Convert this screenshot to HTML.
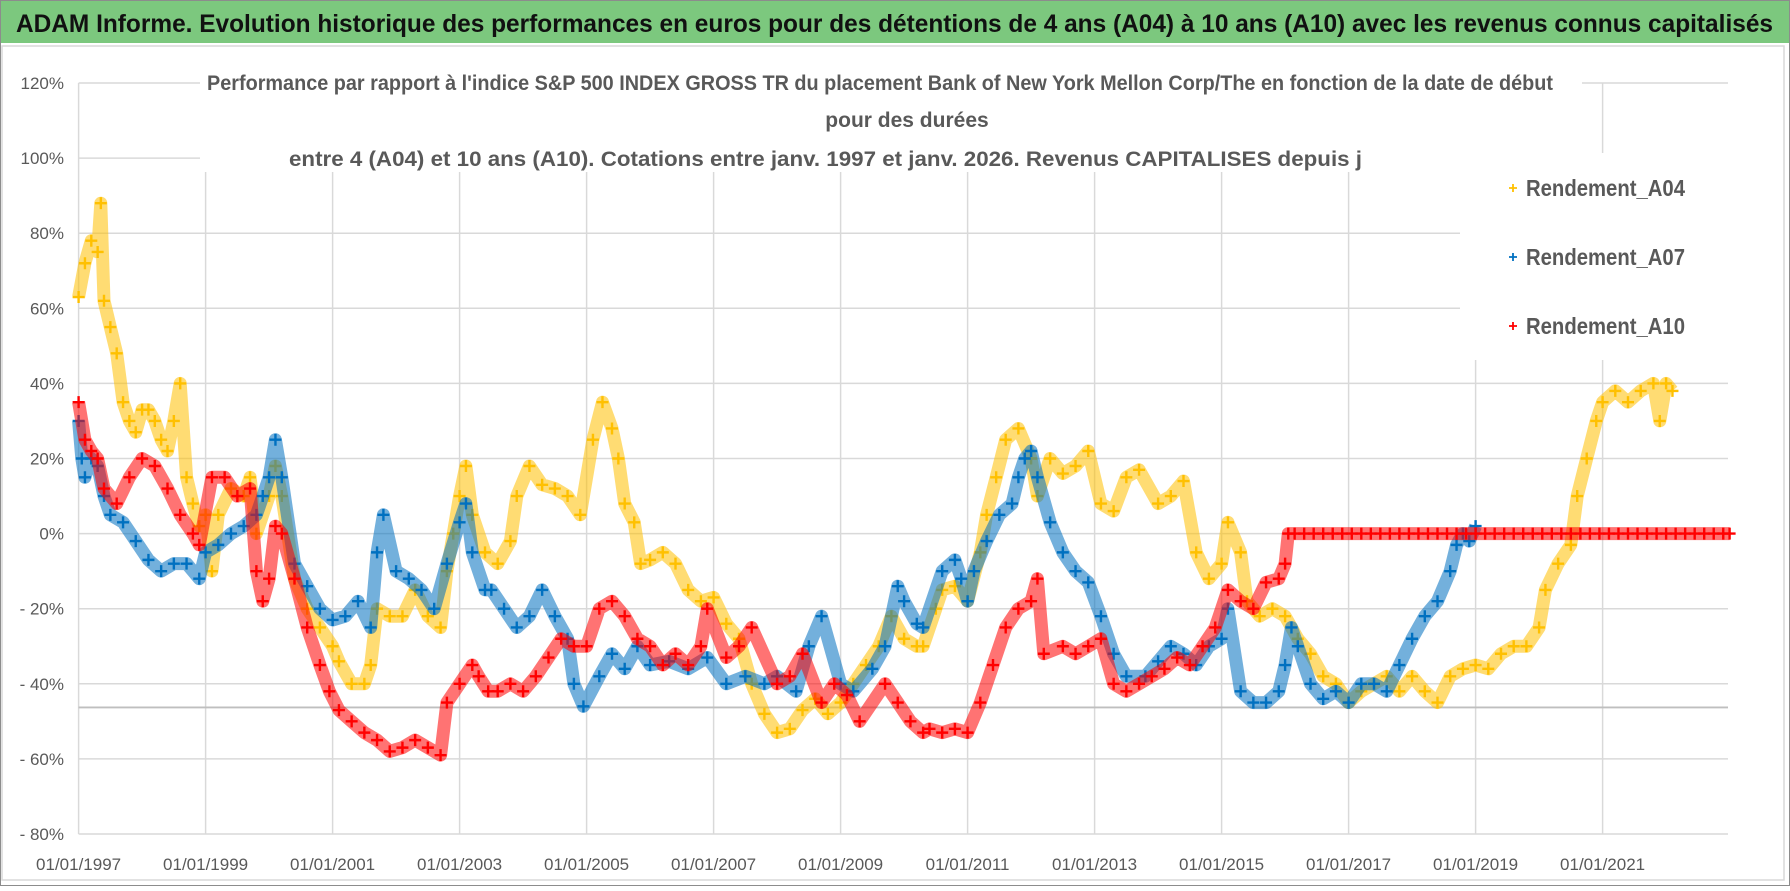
<!DOCTYPE html>
<html><head><meta charset="utf-8">
<style>
html,body{margin:0;padding:0;background:#fff;}
body{width:1790px;height:886px;overflow:hidden;}
svg text{font-family:"Liberation Sans Narrow","Liberation Sans",sans-serif;}
</style></head>
<body>
<svg id="chart" width="1790" height="886" viewBox="0 0 1790 886" xmlns="http://www.w3.org/2000/svg">
  <rect x="0.5" y="0.5" width="1789" height="885" fill="#fff" stroke="#8c8c8c"/>
  <rect x="1" y="1" width="1788" height="42" fill="#7CC87E"/>
  <text x="16" y="32" font-size="25" font-weight="bold" fill="#111" textLength="1757" lengthAdjust="spacingAndGlyphs">ADAM Informe. Evolution historique des performances en euros pour des détentions de 4 ans (A04) à 10 ans (A10) avec les revenus connus capitalisés</text>
  <rect x="2" y="46" width="1782" height="834" fill="none" stroke="#d9d9d9" stroke-width="1.5"/>
  <g id="grid"></g>
  <g id="series"></g>
  <rect x="200" y="68" width="1382" height="104" fill="#fff"/>
  <rect x="1460" y="153" width="270" height="207" fill="#fff"/>
  <g font-weight="bold" fill="#595959" font-size="21">
    <text x="207" y="90" textLength="1346" lengthAdjust="spacingAndGlyphs">Performance par rapport à l'indice S&amp;P 500 INDEX GROSS TR  du placement Bank of New York Mellon Corp/The en fonction de la date de début</text>
    <text x="907" y="127" text-anchor="middle">pour des durées</text>
    <text x="289" y="166" textLength="1073" lengthAdjust="spacingAndGlyphs">entre 4 (A04) et 10 ans (A10). Cotations entre janv. 1997 et janv. 2026. Revenus CAPITALISES depuis j</text>
  </g>
  <g id="axes"></g>
  <g id="legend"></g>
</svg>
<script>
const yTicks = [120,100,80,60,40,20,0,-20,-40,-60,-80];
const yTickLabels = ["120%","100%","80%","60%","40%","20%","0%","- 20%","- 40%","- 60%","- 80%"];
const xTicks = [1997,1999,2001,2003,2005,2007,2009,2011,2013,2015,2017,2019,2021];
const xTickLabels = ["01/01/1997","01/01/1999","01/01/2001","01/01/2003","01/01/2005","01/01/2007","01/01/2009","01/01/2011","01/01/2013","01/01/2015","01/01/2017","01/01/2019","01/01/2021"];
const refLineValue = -46.3;

const a04Dates = [1997.0,1997.1,1997.2,1997.3,1997.35,1997.4,1997.5,1997.6,1997.7,1997.8,1997.9,1998.0,1998.1,1998.2,1998.3,1998.4,1998.5,1998.6,1998.7,1998.8,1998.9,1999.0,1999.1,1999.2,1999.4,1999.6,1999.7,1999.8,2000.0,2000.1,2000.2,2000.4,2000.6,2000.8,2001.0,2001.1,2001.3,2001.5,2001.6,2001.7,2001.9,2002.1,2002.3,2002.5,2002.7,2002.8,2002.9,2003.0,2003.1,2003.2,2003.4,2003.6,2003.8,2003.9,2004.1,2004.3,2004.5,2004.7,2004.9,2005.1,2005.25,2005.4,2005.5,2005.6,2005.75,2005.85,2006.0,2006.2,2006.4,2006.6,2006.8,2007.0,2007.2,2007.4,2007.6,2007.8,2008.0,2008.2,2008.4,2008.6,2008.8,2009.0,2009.2,2009.4,2009.6,2009.8,2010.0,2010.2,2010.3,2010.5,2010.6,2010.8,2011.0,2011.2,2011.3,2011.45,2011.6,2011.8,2012.0,2012.1,2012.3,2012.5,2012.7,2012.9,2013.1,2013.3,2013.5,2013.7,2014.0,2014.2,2014.4,2014.6,2014.8,2015.0,2015.1,2015.3,2015.4,2015.6,2015.8,2016.0,2016.2,2016.4,2016.6,2016.8,2017.0,2017.2,2017.4,2017.6,2017.8,2018.0,2018.2,2018.4,2018.6,2018.8,2019.0,2019.2,2019.4,2019.6,2019.8,2020.0,2020.1,2020.3,2020.5,2020.6,2020.75,2020.9,2021.0,2021.2,2021.4,2021.6,2021.8,2021.9,2022.0,2022.1];
const a04Values = [63,72,78,75,88,62,55,48,35,30,27,33,33,30,25,22,30,40,15,8,2,5,-10,5,12,10,15,0,10,18,10,-12,-20,-25,-30,-34,-40,-40,-35,-20,-22,-22,-15,-22,-25,-10,0,10,18,5,-5,-8,-2,10,18,13,12,10,5,25,35,28,20,8,3,-8,-7,-5,-8,-15,-18,-17,-24,-28,-40,-48,-53,-52,-47,-44,-48,-45,-40,-35,-30,-22,-28,-30,-30,-20,-15,-14,-18,-5,5,15,25,28,20,10,20,16,18,22,8,6,15,17,8,10,14,-5,-12,-8,3,-5,-18,-22,-20,-22,-28,-32,-38,-40,-45,-42,-40,-38,-42,-38,-42,-45,-38,-36,-35,-36,-32,-30,-30,-25,-15,-8,-3,10,20,30,35,38,35,38,40,30,40,38];

const a07Dates = [1997.0,1997.05,1997.1,1997.2,1997.3,1997.4,1997.5,1997.7,1997.9,1998.1,1998.3,1998.5,1998.7,1998.9,1999.0,1999.2,1999.4,1999.6,1999.8,1999.9,2000.0,2000.1,2000.2,2000.4,2000.6,2000.8,2001.0,2001.2,2001.4,2001.6,2001.7,2001.8,2002.0,2002.2,2002.4,2002.6,2002.8,2003.0,2003.1,2003.2,2003.4,2003.5,2003.7,2003.9,2004.1,2004.3,2004.5,2004.7,2004.8,2004.95,2005.2,2005.4,2005.6,2005.8,2006.0,2006.3,2006.6,2006.9,2007.2,2007.5,2007.8,2008.0,2008.3,2008.5,2008.7,2009.0,2009.2,2009.5,2009.7,2009.9,2010.0,2010.2,2010.3,2010.6,2010.8,2010.9,2011.0,2011.1,2011.3,2011.5,2011.7,2011.8,2011.9,2012.0,2012.1,2012.3,2012.5,2012.7,2012.9,2013.1,2013.3,2013.5,2013.8,2014.0,2014.2,2014.4,2014.6,2014.8,2015.0,2015.1,2015.3,2015.5,2015.7,2015.9,2016.0,2016.1,2016.2,2016.4,2016.6,2016.8,2017.0,2017.2,2017.4,2017.6,2017.8,2018.0,2018.2,2018.4,2018.6,2018.7,2018.8,2018.9,2019.0];
const a07Values = [30,20,15,20,18,10,5,3,-2,-7,-10,-8,-8,-12,-5,-3,0,2,5,10,15,25,15,-8,-14,-20,-23,-22,-18,-25,-5,5,-10,-12,-15,-20,-8,3,8,-5,-15,-15,-20,-25,-22,-15,-22,-28,-40,-46,-38,-32,-36,-30,-35,-34,-36,-33,-40,-38,-40,-38,-42,-30,-22,-40,-42,-36,-30,-14,-18,-24,-25,-10,-7,-12,-18,-10,-2,5,8,15,20,22,15,3,-5,-10,-13,-22,-32,-38,-38,-34,-30,-32,-35,-30,-28,-20,-42,-45,-45,-42,-35,-25,-30,-40,-44,-42,-45,-40,-40,-42,-35,-28,-22,-18,-10,-3,0,-2,2];

const a10Dates = [1997.0,1997.1,1997.2,1997.3,1997.4,1997.6,1997.8,1998.0,1998.2,1998.4,1998.6,1998.8,1998.9,1999.1,1999.3,1999.5,1999.7,1999.8,1999.9,2000.0,2000.1,2000.2,2000.4,2000.6,2000.8,2000.95,2001.1,2001.3,2001.5,2001.7,2001.9,2002.1,2002.3,2002.5,2002.7,2002.8,2003.0,2003.2,2003.3,2003.45,2003.6,2003.8,2004.0,2004.2,2004.4,2004.6,2004.8,2005.0,2005.2,2005.4,2005.6,2005.8,2006.0,2006.2,2006.4,2006.6,2006.8,2006.9,2007.2,2007.4,2007.6,2008.0,2008.2,2008.4,2008.7,2008.9,2009.1,2009.3,2009.7,2009.9,2010.1,2010.3,2010.4,2010.6,2010.8,2011.0,2011.2,2011.4,2011.6,2011.8,2012.0,2012.1,2012.2,2012.5,2012.7,2012.9,2013.1,2013.3,2013.5,2013.7,2013.9,2014.1,2014.3,2014.5,2014.7,2014.9,2015.1,2015.3,2015.5,2015.7,2015.9,2016.0,2016.05,2016.15,2016.3,2016.45,2016.6,2016.75,2016.9,2017.05,2017.2,2017.35,2017.5,2017.65,2017.8,2017.95,2018.1,2018.25,2018.4,2018.55,2018.7,2018.85,2019.0,2019.15,2019.3,2019.45,2019.6,2019.75,2019.9,2020.05,2020.2,2020.35,2020.5,2020.65,2020.8,2020.95,2021.1,2021.25,2021.4,2021.55,2021.7,2021.85,2022.0,2022.15,2022.3,2022.45,2022.6,2022.75,2022.9,2023.0];
const a10Values = [35,25,22,20,12,8,15,20,18,12,5,0,-3,15,15,10,12,-10,-18,-12,2,0,-12,-25,-35,-42,-47,-50,-53,-55,-58,-57,-55,-57,-59,-45,-40,-35,-38,-42,-42,-40,-42,-38,-33,-28,-30,-30,-20,-18,-22,-28,-30,-35,-32,-35,-30,-20,-33,-30,-25,-40,-38,-32,-45,-40,-43,-50,-40,-45,-50,-53,-52,-53,-52,-53,-45,-35,-25,-20,-18,-12,-32,-30,-32,-30,-28,-40,-42,-40,-38,-36,-33,-35,-30,-25,-15,-18,-20,-13,-12,-8,0,0,0,0,0,0,0,0,0,0,0,0,0,0,0,0,0,0,0,0,0,0,0,0,0,0,0,0,0,0,0,0,0,0,0,0,0,0,0,0,0,0,0,0,0,0,0,0,0];

const NS = "http://www.w3.org/2000/svg";
const X0 = 78.6, PX_PER_YEAR = 63.5, XMAX = 1728;
const Y_TOP = 83, PX_PER_PCT = 3.755;
function xScale(year){ return X0 + (year - 1997) * PX_PER_YEAR; }
function yScale(v){ return Y_TOP + (120 - v) * PX_PER_PCT; }
function mk(tag, attrs, parent){ const e=document.createElementNS(NS,tag); for(const k in attrs) e.setAttribute(k, attrs[k]); parent.appendChild(e); return e; }

const grid = document.getElementById('grid');
const axes = document.getElementById('axes');
yTicks.forEach((t,i)=>{
  const y = yScale(t);
  const l = mk('line',{x1:X0,x2:XMAX,y1:y,y2:y,stroke:'#d9d9d9','stroke-width':1.5},grid);
  
  
  const tx = mk('text',{x:64,y:y+6,'text-anchor':'end','font-size':17,fill:'#595959'},axes);
  
  
  tx.textContent = yTickLabels[i];
});
xTicks.forEach((t,i)=>{
  const x = xScale(t);
  const l = mk('line',{x1:x,x2:x,y1:Y_TOP,y2:yScale(-80),stroke:'#d9d9d9','stroke-width':1.5},grid);
  
  
  const tx = mk('text',{x:x,y:870,'text-anchor':'middle','font-size':17,fill:'#595959'},axes);
  
  
  tx.textContent = xTickLabels[i];
});
const ref = mk('line',{x1:X0,x2:XMAX,y1:yScale(refLineValue),y2:yScale(refLineValue),stroke:'#bfbfbf','stroke-width':1.8},grid);



const seriesLayer = document.getElementById('series');
function drawSeries(name, dates, values, color){
  const g = mk('g',{},seriesLayer);
  
  
  const pts = dates.map((d,i)=>xScale(d).toFixed(1)+','+yScale(values[i]).toFixed(1)).join(' ');
  const band = mk('polyline',{points:pts,fill:'none',stroke:color,'stroke-width':13,'stroke-opacity':0.55,'stroke-linejoin':'round'},g);
  
  
  dates.forEach((d,i)=>{
    const x = xScale(d), y = yScale(values[i]);
    const p = mk('path',{d:`M${x-6},${y}H${x+6}M${x},${y-6}V${y+6}`,stroke:color,'stroke-width':2.4,fill:'none'},g);
    
    
  });
}
drawSeries('series-a04', a04Dates, a04Values, '#FFC000');
drawSeries('series-a07', a07Dates, a07Values, '#0070C0');
drawSeries('series-a10', a10Dates, a10Values, '#FF0000');

const legendNames = ["Rendement_A04","Rendement_A07","Rendement_A10"];
const legendColors = ["#FFC000","#0070C0","#FF0000"];
const legend = document.getElementById('legend');
legendNames.forEach((n,i)=>{
  const y = 188 + i*69;
  const g = mk('g',{},legend);
  
  
  const m = mk('path',{d:`M1509,${y}H1517M1513,${y-4}V${y+4}`,stroke:legendColors[i],'stroke-width':1.8},g);
  
  
  const t = mk('text',{x:1526,y:y+8,'font-size':23,'font-weight':'bold',fill:'#595959',textLength:159,lengthAdjust:'spacingAndGlyphs'},g);
  
  
  t.textContent = n;
});
</script>
</body></html>
